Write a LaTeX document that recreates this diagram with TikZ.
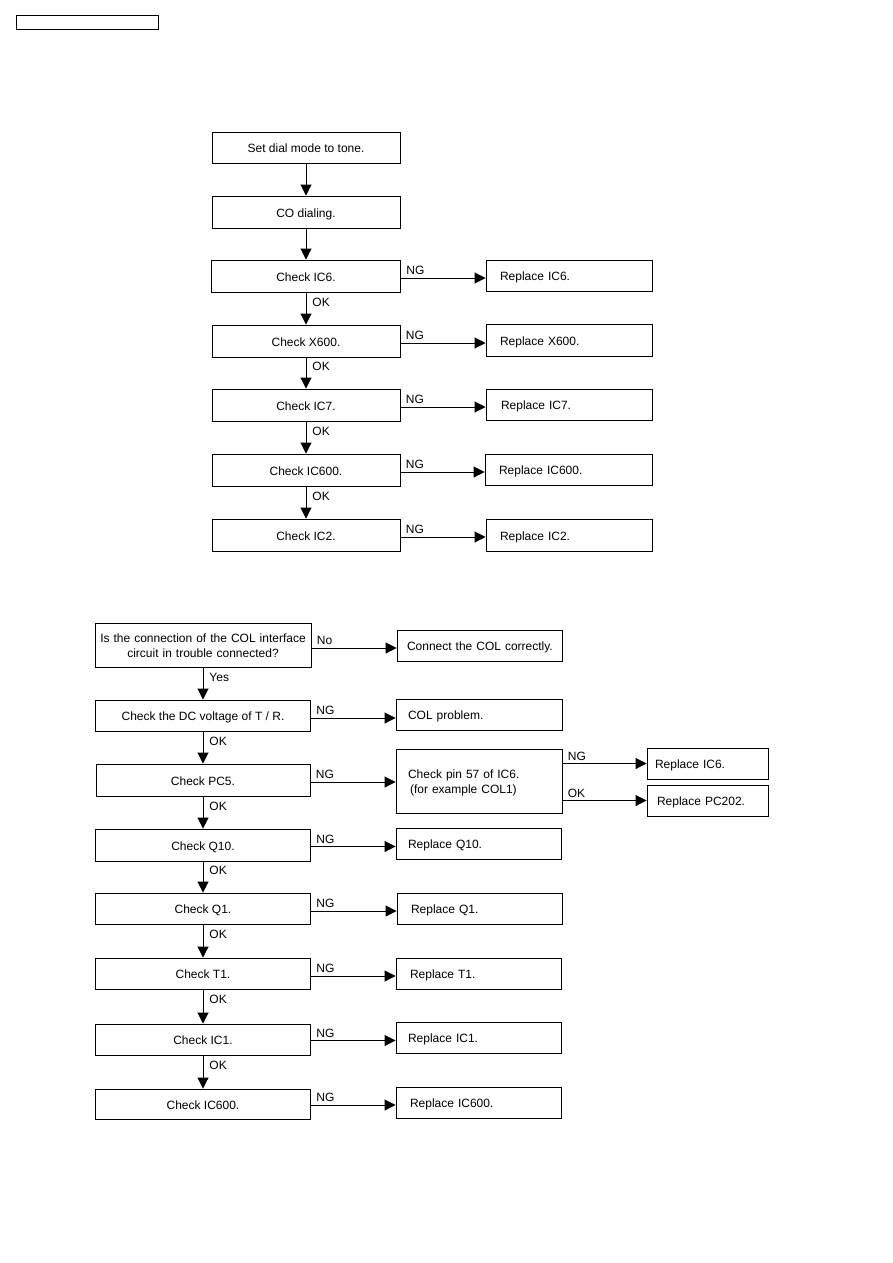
\documentclass[tikz,border=0pt]{standalone}
\usepackage{fontspec}
\setmainfont{Liberation Sans}
\usetikzlibrary{arrows.meta,calc}
\begin{document}
\begin{tikzpicture}[x=1pt,y=-1pt,
 bx/.style={draw, line width=0.9pt, inner xsep=0pt, inner ysep=0pt, align=center, font=\fontsize{12}{15}\selectfont},
 one/.style={text height=10.5pt, text depth=0pt},
 two/.style={text height=10pt, text depth=15.4pt},
 lb/.style={inner sep=0pt, font=\fontsize{12}{14}\selectfont},
 arr/.style={line width=0.9pt, -{Triangle[length=11pt,width=11pt]}},
 ok/.style={lb, pos=0.3, anchor=west, xshift=6pt},
 ng/.style={lb, pos=0, anchor=south west, xshift=5pt, yshift=2.5pt}
]
\useasboundingbox (0,0) rectangle (893,1263);
\node[draw, line width=1pt, minimum width=142pt, minimum height=14pt, inner sep=0pt] (hdr) at (87,23) {};

% ---------- top chart ----------
\node[bx, one, minimum width=188pt, minimum height=31pt] (t1) at (306,147.5) {Set dial mode to tone.};
\node[bx, one, minimum width=188pt, minimum height=32pt] (t2) at (306,212) {CO dialing.};
\node[bx, one, minimum width=189pt, minimum height=32pt] (t3) at (306,276) {Check IC6.};
\node[bx, one, minimum width=188pt, minimum height=32pt] (t4) at (306,341) {Check X600.};
\node[bx, one, minimum width=188pt, minimum height=32pt] (t5) at (306,405) {Check IC7.};
\node[bx, one, minimum width=188pt, minimum height=32pt] (t6) at (306,470) {Check IC600.};
\node[bx, one, minimum width=188pt, minimum height=32pt] (t7) at (306,535) {Check IC2.};

\node[bx, one, align=left, text width=138pt, inner xsep=14pt, minimum height=31pt] (r3) at (569,275.5) {Replace IC6.};
\node[bx, one, align=left, text width=138pt, inner xsep=14pt, minimum height=32pt] (r4) at (569,340) {Replace X600.};
\node[bx, one, align=left, text width=136pt, inner xsep=15pt, minimum height=31pt] (r5) at (569,404.5) {Replace IC7.};
\node[bx, one, align=left, text width=139pt, inner xsep=14pt, minimum height=31pt] (r6) at (568.5,469.5) {Replace IC600.};
\node[bx, one, align=left, text width=138pt, inner xsep=14pt, minimum height=32pt] (r7) at (569,535) {Replace IC2.};

\draw[arr] (t1) -- (t2);
\draw[arr] (t2) -- (t3);
\draw[arr] (t3) -- node[ok]{OK} (t4);
\draw[arr] (t4) -- node[ok]{OK} (t5);
\draw[arr] (t5) -- node[ok]{OK} (t6);
\draw[arr] (t6) -- node[ok]{OK} (t7);

\draw[arr] ([yshift=-2pt]t3.east) -- node[ng]{NG} ([yshift=-2pt]t3.east -| r3.west);
\draw[arr] ([yshift=-2pt]t4.east) -- node[ng]{NG} ([yshift=-2pt]t4.east -| r4.west);
\draw[arr] ([yshift=-2pt]t5.east) -- node[ng]{NG} ([yshift=-2pt]t5.east -| r5.west);
\draw[arr] ([yshift=-2pt]t6.east) -- node[ng]{NG} ([yshift=-2pt]t6.east -| r6.west);
\draw[arr] ([yshift=-2pt]t7.east) -- node[ng]{NG} ([yshift=-2pt]t7.east -| r7.west);

% ---------- bottom chart ----------
\node[bx, two, text width=216pt, minimum width=216pt, minimum height=44pt] (q) at (203,645) {Is the connection of the COL interface\\circuit in trouble connected?};
\node[bx, one, minimum width=215pt, minimum height=31pt] (b2) at (203,715.5) {Check the DC voltage of T / R.};
\node[bx, one, minimum width=214pt, minimum height=32pt] (b3) at (203,780) {Check PC5.};
\node[bx, one, minimum width=215pt, minimum height=32pt] (b4) at (203,845) {Check Q10.};
\node[bx, one, minimum width=215pt, minimum height=31pt] (b5) at (203,908.5) {Check Q1.};
\node[bx, one, minimum width=215pt, minimum height=31pt] (b6) at (203,973.5) {Check T1.};
\node[bx, one, minimum width=215pt, minimum height=31pt] (b7) at (203,1039.5) {Check IC1.};
\node[bx, one, minimum width=215pt, minimum height=30pt] (b8) at (203,1104) {Check IC600.};

\node[bx, one, align=left, text width=145pt, inner xsep=10pt, minimum height=31pt] (c1) at (479.5,645.5) {\mbox{Connect the COL correctly.}};
\node[bx, one, align=left, text width=142pt, inner xsep=12pt, minimum height=31pt] (c2) at (479,714.5) {COL problem.};
\node[bx, two, align=left, text width=142pt, inner xsep=12pt, minimum height=64pt] (pin) at (479,781) {Check pin 57 of IC6.\\\hspace*{2pt}(for example COL1)};
\node[bx, one, align=left, text width=105pt, inner xsep=8pt, minimum height=31pt] (r6b) at (707.5,763.5) {Replace IC6.};
\node[bx, one, align=left, text width=101pt, inner xsep=10pt, minimum height=31pt] (pc) at (707.5,800.5) {Replace PC202.};
\node[bx, one, align=left, text width=141pt, inner xsep=12pt, minimum height=31pt] (c4) at (478.5,843.5) {Replace Q10.};
\node[bx, one, align=left, text width=137pt, inner xsep=14pt, minimum height=31pt] (c5) at (479.5,908.5) {Replace Q1.};
\node[bx, one, align=left, text width=137pt, inner xsep=14pt, minimum height=31pt] (c6) at (478.5,973.5) {Replace T1.};
\node[bx, one, align=left, text width=141pt, inner xsep=12pt, minimum height=31pt] (c7) at (478.5,1037.5) {Replace IC1.};
\node[bx, one, align=left, text width=137pt, inner xsep=14pt, minimum height=31pt] (c8) at (478.5,1102.5) {Replace IC600.};

\draw[arr] (q) -- node[ok]{Yes} (b2);
\draw[arr] (b2) -- node[ok]{OK} (b3);
\draw[arr] (b3) -- node[ok]{OK} (b4);
\draw[arr] (b4) -- node[ok]{OK} (b5);
\draw[arr] (b5) -- node[ok]{OK} (b6);
\draw[arr] (b6) -- node[ok]{OK} (b7);
\draw[arr] (b7) -- node[ok]{OK} (b8);

\draw[arr] ([yshift=-3pt]q.east) -- node[ng]{No} ([yshift=-3pt]q.east -| c1.west);
\draw[arr] ([yshift=-2.5pt]b2.east) -- node[ng]{NG} ([yshift=-2.5pt]b2.east -| c2.west);
\draw[arr] ([yshift=-2pt]b3.east) -- node[ng]{NG} ([yshift=-2pt]b3.east -| pin.west);
\draw[arr] (pin.east |- r6b.west) -- node[ng]{NG} (r6b.west);
\draw[arr] (pin.east |- pc.west) -- node[ng]{OK} (pc.west);
\draw[arr] ([yshift=-1.5pt]b4.east) -- node[ng]{NG} ([yshift=-1.5pt]b4.east -| c4.west);
\draw[arr] ([yshift=-2.5pt]b5.east) -- node[ng]{NG} ([yshift=-2.5pt]b5.east -| c5.west);
\draw[arr] ([yshift=-2.5pt]b6.east) -- node[ng]{NG} ([yshift=-2.5pt]b6.east -| c6.west);
\draw[arr] ([yshift=-1pt]b7.east) -- node[ng]{NG} ([yshift=-1pt]b7.east -| c7.west);
\draw[arr] ([yshift=-1pt]b8.east) -- node[ng]{NG} ([yshift=-1pt]b8.east -| c8.west);
\end{tikzpicture}
\end{document}
